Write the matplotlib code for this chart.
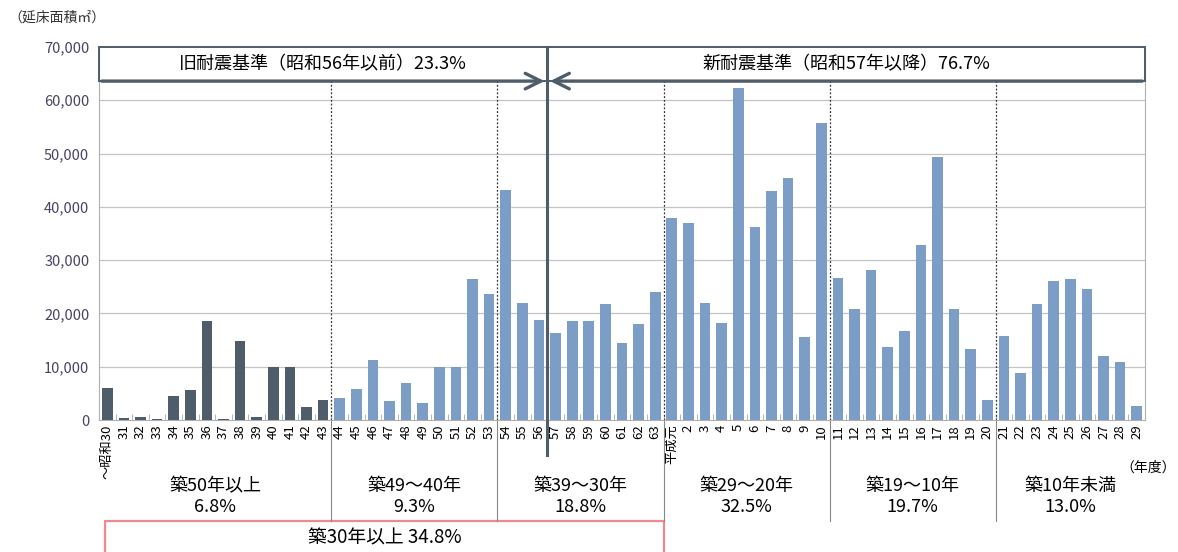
import matplotlib.pyplot as plt
from matplotlib.patches import Rectangle
import matplotlib.transforms as mtransforms

plt.rcParams['font.family'] = ['Noto Sans CJK JP', 'DejaVu Sans']

# 年度ラベル（昭和30～63、平成元～29）
showa_labels = ["～昭和30"] + [str(y) for y in range(31, 64)]
heisei_labels = ["平成元"] + [str(y) for y in range(2, 30)]
years = showa_labels + heisei_labels

# 延床面積（㎡）
showa_area = [6000, 300, 600, 100, 4450, 5700, 18500, 200, 14900, 500,
              10000, 10000, 2450, 3700, 4200, 5800, 11200, 3600, 6900, 3100,
              10000, 10000, 26400, 23600, 43100, 21900, 18700, 16300, 18500, 18500,
              21700, 14400, 18000, 24000]
heisei_area = [38000, 37000, 22000, 18200, 62300, 36200, 43000, 45500, 15500, 55700,
               26600, 20800, 28100, 13700, 16700, 32800, 49300, 20800, 13300, 3700,
               15700, 8800, 21700, 26000, 26400, 24500, 12000, 10800, 2600]
area = showa_area + heisei_area

# 築年数区分
group_bounds = [13.5, 23.5, 33.5, 43.5, 53.5]
group_names = ["築50年以上\n6.8%", "築49～40年\n9.3%", "築39～30年\n18.8%",
               "築29～20年\n32.5%", "築19～10年\n19.7%", "築10年未満\n13.0%"]
old_count = 14  # 昭和43年度以前は濃色

dark = '#4F5C69'
light = '#7C9DC6'
edge = '#4F5C69'

fig = plt.figure(figsize=(11.78, 5.52), dpi=100)
ax = fig.add_axes([99 / 1178, 1 - 420 / 552, (1145 - 99) / 1178, (420 - 47) / 552])

x = list(range(len(area)))
colors = [dark if i < old_count else light for i in x]
ax.bar(x, area, width=0.64, color=colors, zorder=3)

ax.set_xlim(-0.5, len(area) - 0.5)
ax.set_ylim(0, 70000)
ax.set_yticks(range(0, 70001, 10000))
ax.set_yticklabels([f"{v:,}" for v in range(0, 70001, 10000)], color='#4a4262', fontsize=10.5)
ax.tick_params(axis='y', length=0, pad=7)
for g in range(10000, 70000, 10000):
    ax.axhline(g, color='#C4C4C4', lw=0.9, zorder=1)

ax.set_xticks(x)
ax.set_xticklabels(years, rotation=90, fontsize=9.5, va='top', ha='center')
ax.tick_params(axis='x', length=0, pad=3)
ax.set_xticks([i + 0.5 for i in x[:-1]], minor=True)
ax.tick_params(axis='x', which='minor', direction='in', length=4, color='#AAAAAA')

for s in ['left', 'right', 'bottom']:
    ax.spines[s].set_color('#B0B0B0')
ax.spines['top'].set_visible(False)

trans = mtransforms.blended_transform_factory(ax.transData, ax.transAxes)

# 区分の境界線
arrow_y = 63600
for b in group_bounds:
    ax.plot([b, b], [0, arrow_y], ls=(0, (1.5, 1.5)), color='#333333', lw=0.9, zorder=2)
    ax.plot([b, b], [0, -0.27], color='#888888', lw=0.8, transform=trans, clip_on=False)

# 旧耐震・新耐震の枠と矢印
ax.add_patch(Rectangle((-0.5, arrow_y), len(area), 70000 - arrow_y, fill=False,
                       edgecolor=edge, lw=1.4, zorder=4, clip_on=False))
split = 26.5
ax.plot([split, split], [1.0, -0.095], color=edge, lw=2.2, transform=trans,
        clip_on=False, zorder=5)
ax.annotate('', xy=(split, arrow_y), xytext=(-0.5, arrow_y),
            arrowprops=dict(arrowstyle='->', color=edge, lw=2.4, mutation_scale=28), zorder=5)
ax.annotate('', xy=(split, arrow_y), xytext=(len(area) - 0.5, arrow_y),
            arrowprops=dict(arrowstyle='->', color=edge, lw=2.4, mutation_scale=28), zorder=5)
ax.text(13, 66800, "旧耐震基準（昭和56年以前）23.3%", ha='center', va='center', fontsize=13)
ax.text(44.5, 66800, "新耐震基準（昭和57年以降）76.7%", ha='center', va='center', fontsize=13)

# 築年数区分のラベル
edges = [-0.5] + group_bounds + [len(area) - 0.5]
for i, name in enumerate(group_names):
    cx = (edges[i] + edges[i + 1]) / 2
    ax.text(cx, -0.205, name, ha='center', va='center', fontsize=13,
            linespacing=1.2, transform=trans)

# 築30年以上の枠
ax.add_patch(Rectangle((-0.15, -0.37), 33.65, 0.098, fill=False, edgecolor='#F08A8A',
                       lw=1.6, transform=trans, clip_on=False))
ax.text(16.7, -0.315, "築30年以上 34.8%", ha='center', va='center', fontsize=13.5,
        transform=trans)

fig.text(8 / 1178, 1 - 18 / 552, "（延床面積㎡）", ha='left', va='center', fontsize=10,
         color='#333333')
fig.text(1176 / 1178, 1 - 468 / 552, "（年度）", ha='right', va='center', fontsize=10)

fig.savefig('out.png', dpi=100)
